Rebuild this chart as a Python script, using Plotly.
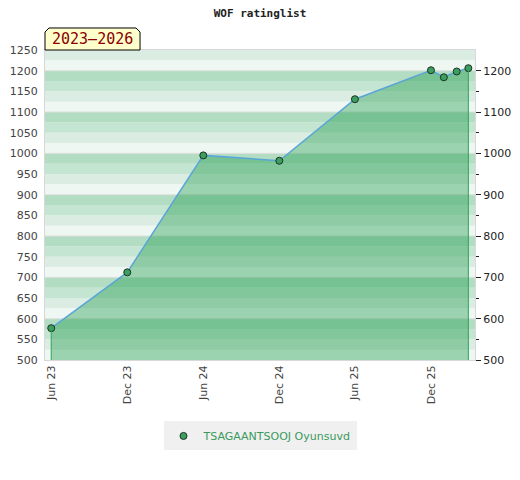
import plotly.graph_objects as go

# rating list data
dates = ['2023-06-01', '2023-12-01', '2024-06-01', '2024-12-01', '2025-06-01',
         '2025-12-01', '2026-01-01', '2026-02-01', '2026-03-01']
ratings = [577, 712, 995, 982, 1131, 1201, 1184, 1198, 1206]
player = 'TSAGAANTSOOJ Oyunsuvd'

tick_dates = ['2023-06-01', '2023-12-01', '2024-06-01', '2024-12-01', '2025-06-01', '2025-12-01']
y_min, y_max = 500, 1250
x_range = ['2023-05-17', '2026-03-17']

band_colors = ['#eff7f2', '#dbede2', '#c4e5d1', '#b3ddc3']
marker_style = dict(size=7, color='#3d9f5f', line=dict(color='#1b3324', width=1))

fig = go.Figure()

# area + line
fig.add_trace(go.Scatter(
    x=dates, y=ratings, mode='lines+markers', name=player, showlegend=False,
    fill='tozeroy', fillcolor='rgba(30,155,75,0.40)',
    line=dict(color='#5aa5d8', width=1.5),
    marker=marker_style,
))

# green edges of the area
fig.add_trace(go.Scatter(
    x=[dates[0], dates[0], None, dates[-1], dates[-1]],
    y=[y_min, ratings[0], None, y_min, ratings[-1]],
    mode='lines', line=dict(color='#2ea653', width=1),
    showlegend=False, hoverinfo='skip',
))

# legend entry (marker only)
fig.add_trace(go.Scatter(x=[None], y=[None], mode='markers', name=player,
                         marker=marker_style))

# dummy trace for right axis
fig.add_trace(go.Scatter(x=[dates[0]], y=[ratings[0]], yaxis='y2',
                         mode='markers', marker=dict(opacity=0),
                         showlegend=False, hoverinfo='skip'))

# striped background
shapes = []
v = y_min
i = 0
while v < y_max:
    shapes.append(dict(type='rect', xref='paper', yref='y', x0=0, x1=1,
                       y0=v, y1=v + 25, fillcolor=band_colors[i % 4],
                       line=dict(width=0), layer='below'))
    v += 25
    i += 1
for g in range(600, 1250, 100):
    shapes.append(dict(type='line', xref='paper', yref='y', x0=0, x1=1,
                       y0=g, y1=g, line=dict(color='#dedede', width=1), layer='below'))

# year label tab
shapes.append(dict(type='path', xref='paper', yref='paper',
                   path='M 0,1 L 0,1.058 L 0.0093,1.071 L 0.2117,1.071 L 0.221,1.058 L 0.221,1 Z',
                   fillcolor='#ffffcc', line=dict(color='black', width=1)))

# page body has an 8px margin, so the figure is 16px smaller than the window
fig.update_layout(
    width=504, height=464,
    margin=dict(l=37, r=37, t=42, b=112),
    paper_bgcolor='white', plot_bgcolor='white',
    title=dict(text='<b>WOF ratinglist</b>', x=0.5, xanchor='center',
               y=0.989, yanchor='middle',
               font=dict(family='DejaVu Sans Mono', size=11, color='#222')),
    shapes=shapes,
    annotations=[dict(text='2023–2026', xref='paper', yref='paper', x=0.1105, y=1.036,
                      xanchor='center', yanchor='middle', showarrow=False,
                      font=dict(family='DejaVu Sans Mono', size=15, color='#8b0000'))],
    xaxis=dict(type='date', range=x_range, tickvals=tick_dates, tickformat='%b %y',
               tickangle=-90, showgrid=False, zeroline=False, automargin=False,
               showline=True, linecolor='#d8d8d8', mirror=True,
               tickfont=dict(family='DejaVu Sans', size=11, color='#444')),
    yaxis=dict(range=[y_min, y_max], dtick=50, showgrid=False, zeroline=False,
               showline=True, linecolor='#d8d8d8', mirror=True, automargin=False,
               ticks='outside', ticklen=4, tickcolor='rgba(0,0,0,0)',
               tickfont=dict(family='DejaVu Sans', size=11, color='#444')),
    yaxis2=dict(range=[y_min, y_max], overlaying='y', side='right', automargin=False,
                tickvals=list(range(500, 1250, 100)), ticks='outside', ticklen=5,
                tickcolor='#222', showgrid=False, zeroline=False,
                minor=dict(tickvals=list(range(550, 1250, 100)), ticks='outside',
                           ticklen=3, tickcolor='#222'),
                tickfont=dict(family='DejaVu Sans', size=11, color='#222')),
    legend=dict(orientation='h', x=0.5, xanchor='center', y=-0.245, yanchor='middle',
                bgcolor='#f0f0f0', font=dict(family='DejaVu Sans', size=11, color='#3a9a5c')),
    showlegend=True,
)

fig.write_html('out.html')
